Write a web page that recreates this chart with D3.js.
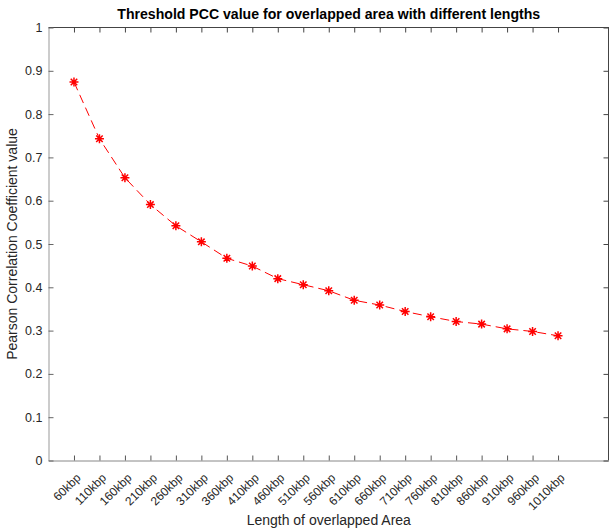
<!DOCTYPE html>
<html>
<head>
<meta charset="utf-8">
<script src="https://cdn.jsdelivr.net/npm/d3@7"></script>
<style>
  body { margin: 0; background: #fff; }
  text { font-family: "Liberation Sans", Arial, Helvetica, sans-serif; fill: #262626; }
</style>
</head>
<body>
<div id="chart-area"></div>
<script>
// data
var lengths = ['60kbp','110kbp','160kbp','210kbp','260kbp','310kbp','360kbp','410kbp','460kbp','510kbp',
               '560kbp','610kbp','660kbp','710kbp','760kbp','810kbp','860kbp','910kbp','960kbp','1010kbp'];
var pccValues = [0.874, 0.743, 0.653, 0.591, 0.542, 0.505, 0.467, 0.449, 0.420, 0.406,
                 0.392, 0.370, 0.359, 0.344, 0.332, 0.321, 0.315, 0.304, 0.298, 0.288];
var yTicks = [0, 0.1, 0.2, 0.3, 0.4, 0.5, 0.6, 0.7, 0.8, 0.9, 1];

var def = {
    width: 609,
    height: 531,
    left: 48.5,
    right: 609,
    top: 27.5,
    bottom: 460.5,
    tick: 5
};

var svg = d3.select('#chart-area').append('svg')
    .attr('width', def.width)
    .attr('height', def.height);

// x is the index 1..20, limits 0..22 like matlab
var x = d3.scaleLinear()
    .domain([0, 22])
    .range([def.left, def.right]);
var y = d3.scaleLinear()
    .domain([0, 1])
    .range([def.bottom, def.top]);

var idx = lengths.map((d, i) => i + 1);

// box lines
svg.append('line')
    .attr('x1', def.left).attr('x2', def.right)
    .attr('y1', def.top).attr('y2', def.top)
    .attr('stroke', '#444').attr('stroke-width', 1);
svg.append('line')
    .attr('x1', def.right - 0.5).attr('x2', def.right - 0.5)
    .attr('y1', def.top).attr('y2', def.bottom)
    .attr('stroke', '#444').attr('stroke-width', 1);

// bottom axis
var xAx = d3.axisBottom(x)
    .tickValues(idx)
    .tickSize(-def.tick)
    .tickSizeOuter(0)
    .tickFormat((d) => lengths[d - 1]);
var xUnit = svg.append('g')
    .attr('transform', 'translate(0,' + def.bottom + ')')
    .call(xAx);
xUnit.select('.domain').attr('stroke', '#888');
xUnit.selectAll('.tick line').attr('stroke', '#555');
xUnit.selectAll('.tick text')
    .attr('font-size', '12px')
    .attr('fill', '#262626')
    .attr('text-anchor', 'end')
    .attr('dy', '0.35em')
    .attr('y', 0)
    .attr('transform', 'translate(4,15) rotate(-45)');

// top ticks
svg.append('g')
    .attr('transform', 'translate(0,' + def.top + ')')
    .call(d3.axisTop(x).tickValues(idx).tickSize(-def.tick).tickSizeOuter(0).tickFormat(''))
    .call(g => g.select('.domain').remove())
    .selectAll('.tick line').attr('stroke', '#444');

// left axis
var yAx = d3.axisLeft(y)
    .tickValues(yTicks)
    .tickSize(-def.tick)
    .tickSizeOuter(0)
    .tickPadding(6)
    .tickFormat(d3.format('~g'));
var yUnit = svg.append('g')
    .attr('transform', 'translate(' + def.left + ',0)')
    .call(yAx);
yUnit.select('.domain').attr('stroke', '#999');
yUnit.selectAll('.tick line').attr('stroke', '#666');
yUnit.selectAll('.tick text')
    .attr('font-size', '12.5px')
    .attr('fill', '#262626');

// right ticks
svg.append('g')
    .attr('transform', 'translate(' + (def.right - 0.5) + ',0)')
    .call(d3.axisRight(y).tickValues(yTicks).tickSize(-def.tick).tickSizeOuter(0).tickFormat(''))
    .call(g => g.select('.domain').remove())
    .selectAll('.tick line').attr('stroke', '#444');

// dashed line
var line = d3.line()
    .x((d, i) => x(i + 1))
    .y((d) => y(d));
svg.append('path')
    .datum(pccValues)
    .attr('d', line)
    .attr('fill', 'none')
    .attr('stroke', '#f00')
    .attr('stroke-width', 1)
    .attr('stroke-dasharray', '9,5');

// asterisk markers
var r = 4.5, rd = r * 0.72;
var star = 'M' + (-r) + ',0L' + r + ',0M0,' + (-r) + 'L0,' + r +
    'M' + (-rd) + ',' + (-rd) + 'L' + rd + ',' + rd +
    'M' + (-rd) + ',' + rd + 'L' + rd + ',' + (-rd);
svg.selectAll('.marker')
    .data(pccValues)
    .enter()
    .append('path')
    .attr('class', 'marker')
    .attr('d', star)
    .attr('transform', (d, i) => 'translate(' + x(i + 1) + ',' + y(d) + ')')
    .attr('fill', 'none')
    .attr('stroke', '#f00')
    .attr('stroke-width', 1.5);

// title
svg.append('text')
    .attr('x', (def.left + def.right) / 2)
    .attr('y', 19)
    .attr('text-anchor', 'middle')
    .attr('font-size', '14.1px')
    .attr('font-weight', 'bold')
    .style('fill', '#000')
    .text('Threshold PCC value for overlapped area with different lengths');

// X Label
svg.append('text')
    .attr('x', (def.left + def.right) / 2)
    .attr('y', 525)
    .attr('text-anchor', 'middle')
    .attr('font-size', '14px')
    .text('Length of overlapped Area');

// Y Label
svg.append('text')
    .attr('x', -(def.top + def.bottom) / 2)
    .attr('y', 17)
    .attr('text-anchor', 'middle')
    .attr('font-size', '14px')
    .attr('transform', 'rotate(-90)')
    .text('Pearson Correlation Coefficient value');
</script>
</body>
</html>
